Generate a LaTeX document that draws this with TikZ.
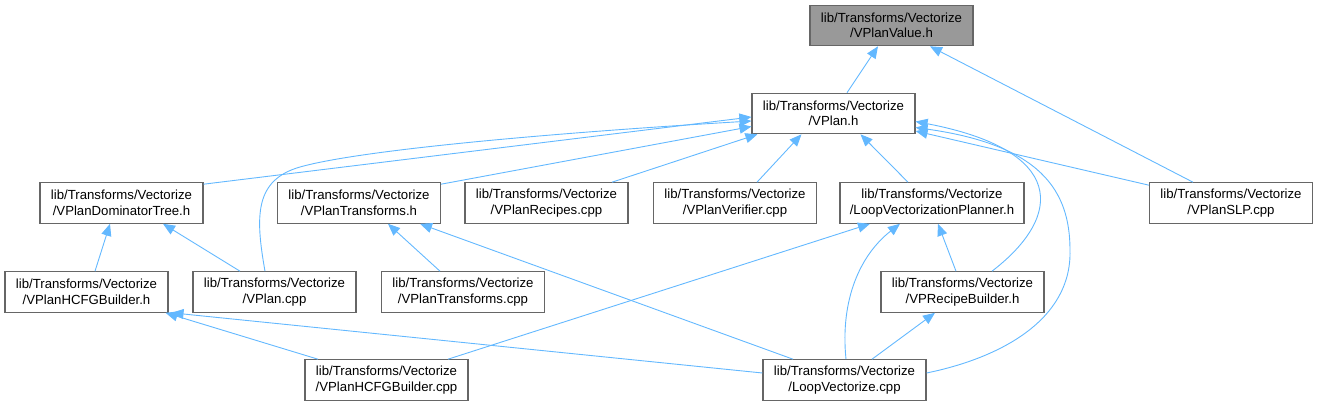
\documentclass[tikz,border=0pt]{standalone}
\usepackage{fontspec}
\setmainfont{Liberation Sans}
\usetikzlibrary{arrows.meta}
\definecolor{edgec}{HTML}{63B8FF}
\definecolor{boxc}{HTML}{666666}
\definecolor{rootc}{HTML}{999999}
\begin{document}
\begin{tikzpicture}[x=1pt,y=-1pt,
  box/.style={draw=boxc, line width=1.1pt, fill=white, minimum width=163pt, minimum height=40.5pt,
    inner sep=0pt, align=center, font=\fontsize{13.2}{15.5}\selectfont},
  edge/.style={draw=edgec, line width=0.9pt, -{Triangle[length=12pt,width=10pt]}}]
\useasboundingbox (0,0) rectangle (1318,406);
% nodes
\node[box, fill=rootc] (root) at (891.5,25.5) {lib/Transforms/Vectorize\\/VPlanValue.h};
\node[box] (vplanh) at (833.5,113.5) {lib/Transforms/Vectorize\\/VPlan.h};
\node[box] (domtree) at (121.5,203) {lib/Transforms/Vectorize\\/VPlanDominatorTree.h};
\node[box] (transh) at (359,203) {lib/Transforms/Vectorize\\/VPlanTransforms.h};
\node[box] (recipes) at (546.5,203) {lib/Transforms/Vectorize\\/VPlanRecipes.cpp};
\node[box] (verifier) at (735,203) {lib/Transforms/Vectorize\\/VPlanVerifier.cpp};
\node[box, minimum width=184pt] (lvp) at (932,203) {lib/Transforms/Vectorize\\/LoopVectorizationPlanner.h};
\node[box] (slp) at (1231,203) {lib/Transforms/Vectorize\\/VPlanSLP.cpp};
\node[box] (hcfgh) at (86.5,292) {lib/Transforms/Vectorize\\/VPlanHCFGBuilder.h};
\node[box] (vplancpp) at (274.5,292) {lib/Transforms/Vectorize\\/VPlan.cpp};
\node[box] (transcpp) at (463,292) {lib/Transforms/Vectorize\\/VPlanTransforms.cpp};
\node[box] (recbuilder) at (962.5,292) {lib/Transforms/Vectorize\\/VPRecipeBuilder.h};
\node[box] (hcfgcpp) at (386.5,380) {lib/Transforms/Vectorize\\/VPlanHCFGBuilder.cpp};
\node[box] (lvcpp) at (844.5,380) {lib/Transforms/Vectorize\\/LoopVectorize.cpp};
% edges
\draw[edge] ([xshift=13.5]vplanh.north) -- ([xshift=-13.5]root.south);
\draw[edge] ([xshift=-38]slp.north) -- ([xshift=38.5]root.south);
\draw[edge] ([yshift=-2]domtree.north east) -- ([yshift=-3.5]vplanh.west);
\draw[edge] ([xshift=-9.5]vplancpp.north) .. controls (255,215) and (255,180) .. (300,167)
   .. controls (360,150) and (550,133) .. ([yshift=-7.5]vplanh.west);
\draw[edge] ([yshift=-2]transh.north east) -- ([yshift=-13]vplanh.west);
\draw[edge] ([xshift=65.5]recipes.north) -- ([xshift=6]vplanh.south west);
\draw[edge] ([xshift=22]verifier.north) -- ([xshift=-32]vplanh.south);
\draw[edge] ([xshift=-24]lvp.north) -- ([xshift=27]vplanh.south);
\draw[edge] ([yshift=-3]slp.north west) -- ([yshift=-17.5]vplanh.east);
\draw[edge] ([xshift=29.5]recbuilder.north) .. controls (1065,215) and (1065,150) .. ([yshift=-8]vplanh.east);
\draw[edge] ([yshift=7]lvcpp.east) .. controls (1000,358) and (1072,320) .. (1070,250)
   .. controls (1070,190) and (1040,145) .. ([yshift=-14]vplanh.east);
\draw[edge] ([xshift=1.5]lvcpp.north) .. controls (840,300) and (860,255) .. ([xshift=-32]lvp.south);
\draw[edge] ([xshift=61.5]hcfgcpp.north) -- ([xshift=-62]lvp.south);
\draw[edge] ([xshift=-6.5]recbuilder.north) -- ([xshift=6]lvp.south);
\draw[edge] ([xshift=27.5]lvcpp.north) -- ([xshift=-27.5]recbuilder.south);
\draw[edge] ([xshift=-51.5]lvcpp.north) -- ([xshift=61]transh.south);
\draw[edge] ([xshift=-23]transcpp.north) -- ([xshift=29]transh.south);
\draw[edge] ([xshift=8.5]hcfgh.north) -- ([xshift=-11.5]domtree.south);
\draw[edge] ([xshift=-34.5]vplancpp.north) -- ([xshift=41.5]domtree.south);
\draw[edge] ([xshift=-68.5]hcfgcpp.north) -- ([xshift=-3]hcfgh.south east);
\draw[edge] ([yshift=7]lvcpp.west) -- ([xshift=3]hcfgh.south east);
\end{tikzpicture}
\end{document}
